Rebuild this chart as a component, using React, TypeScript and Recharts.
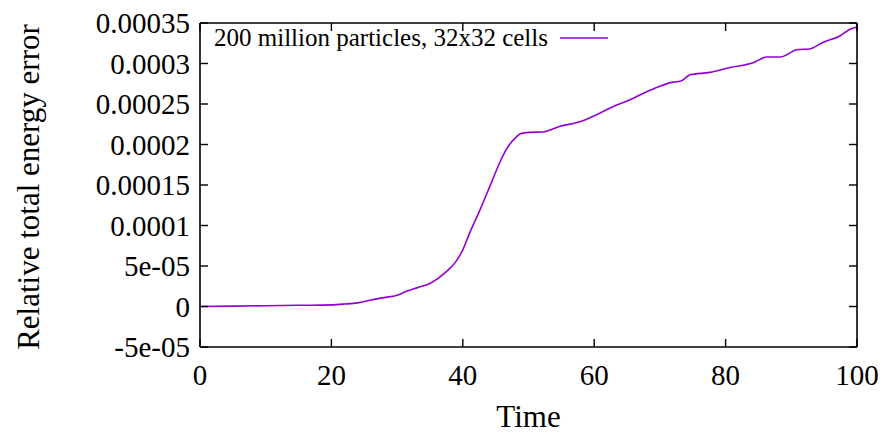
import React from "react";
import { LineChart, Line, XAxis, YAxis } from "recharts";

const times = [0, 5, 10, 15, 20, 22, 24, 26, 28, 30, 31.5, 33, 35, 37.5, 39, 40, 41, 42.6, 44.1, 45.7, 46.5, 47.2, 48, 48.7, 49.5, 50.2, 52.2, 54.8, 57.8, 60.9, 62.9, 65.4, 68.5, 70, 72, 73.1, 74.6, 77.6, 80.7, 84.2, 86.3, 88.3, 90.9, 92.8, 94.8, 97.4, 98.9, 100];
const errors = [0, 0.05e-5, 0.1e-5, 0.15e-5, 0.2e-5, 0.3e-5, 0.45e-5, 0.8e-5, 1.1e-5, 1.4e-5, 1.9e-5, 2.3e-5, 2.85e-5, 4.3e-5, 5.6e-5, 7.0e-5, 9.0e-5, 11.9e-5, 14.8e-5, 17.9e-5, 19.2e-5, 20.1e-5, 20.8e-5, 21.3e-5, 21.45e-5, 21.5e-5, 21.55e-5, 22.25e-5, 22.8e-5, 23.9e-5, 24.7e-5, 25.5e-5, 26.7e-5, 27.2e-5, 27.7e-5, 27.8e-5, 28.6e-5, 28.9e-5, 29.5e-5, 30.1e-5, 30.8e-5, 30.8e-5, 31.7e-5, 31.8e-5, 32.6e-5, 33.4e-5, 34.2e-5, 34.5e-5];

const xTicks = [0, 20, 40, 60, 80, 100];
const yTicks = [-0.00005, 0, 0.00005, 0.0001, 0.00015, 0.0002, 0.00025, 0.0003, 0.00035];
const yTickLabels = ["-5e-05", "0", "5e-05", "0.0001", "0.00015", "0.0002", "0.00025", "0.0003", "0.00035"];

const seriesName = "200 million particles, 32x32 cells";
const xLabel = "Time";
const yLabel = "Relative total energy error";

const data = times.map((t, i) => ({ t, e: errors[i] }));

const FONT = "'Liberation Serif', serif";
const COLOR = "#9400D3";
const TICK = 8;
const AXIS = { stroke: "#000", strokeWidth: 1.6 };

const LeftTick = (props: any) => {
  const { x, y, payload } = props;
  const idx = yTicks.findIndex((v) => Math.abs(v - payload.value) < 1e-12);
  return (
    <g>
      <line x1={x} x2={x + TICK} y1={y} y2={y} stroke="#000" strokeWidth={1.4} />
      <text x={x - 10} y={y} dy={10} textAnchor="end" fontFamily={FONT} fontSize={29} fill="#000">
        {idx >= 0 ? yTickLabels[idx] : payload.value}
      </text>
    </g>
  );
};

const RightTick = (props: any) => {
  const { x, y } = props;
  return <line x1={x} x2={x - TICK} y1={y} y2={y} stroke="#000" strokeWidth={1.4} />;
};

const BottomTick = (props: any) => {
  const { x, y, payload } = props;
  return (
    <g>
      <line x1={x} x2={x} y1={y} y2={y - TICK} stroke="#000" strokeWidth={1.4} />
      <text x={x} y={y} dy={38} textAnchor="middle" fontFamily={FONT} fontSize={29} fill="#000">
        {payload.value}
      </text>
    </g>
  );
};

const TopTick = (props: any) => {
  const { x, y } = props;
  return <line x1={x} x2={x} y1={y} y2={y + TICK} stroke="#000" strokeWidth={1.4} />;
};

const YLabel = (props: any) => {
  const { viewBox } = props;
  const cx = viewBox.x + 28;
  const cy = viewBox.y + viewBox.height / 2 + 2;
  return (
    <text x={cx} y={cy} transform={`rotate(-90 ${cx} ${cy})`} textAnchor="middle" dominantBaseline="central" fontFamily={FONT} fontSize={31} fill="#000">
      {yLabel}
    </text>
  );
};

const XLabel = (props: any) => {
  const { viewBox } = props;
  const cx = viewBox.x + viewBox.width / 2;
  return (
    <text x={cx} y={viewBox.y + 80} textAnchor="middle" fontFamily={FONT} fontSize={31} fill="#000">
      {xLabel}
    </text>
  );
};

export default function App() {
  return (
    <div style={{ position: "absolute", left: 0, top: 0, width: 880, height: 436, background: "#fff" }}>
      <LineChart width={880} height={436} data={data} margin={{ top: 22, right: 22, left: 0, bottom: 0 }}>
        <XAxis
          xAxisId="b"
          dataKey="t"
          type="number"
          domain={[0, 100]}
          ticks={xTicks}
          tick={<BottomTick />}
          tickLine={false}
          tickSize={0}
          tickMargin={0}
          height={89}
          axisLine={AXIS}
          label={<XLabel />}
        />
        <XAxis
          xAxisId="t"
          orientation="top"
          dataKey="t"
          type="number"
          domain={[0, 100]}
          ticks={xTicks}
          tick={<TopTick />}
          tickLine={false}
          tickSize={0}
          tickMargin={0}
          height={1}
          axisLine={AXIS}
        />
        <YAxis
          yAxisId="l"
          type="number"
          domain={[-0.00005, 0.00035]}
          ticks={yTicks}
          tick={<LeftTick />}
          tickLine={false}
          tickSize={0}
          tickMargin={0}
          width={200}
          axisLine={AXIS}
          label={<YLabel />}
        />
        <YAxis
          yAxisId="r"
          orientation="right"
          type="number"
          domain={[-0.00005, 0.00035]}
          ticks={yTicks}
          tick={<RightTick />}
          tickLine={false}
          tickSize={0}
          tickMargin={0}
          width={1}
          axisLine={AXIS}
        />
        <Line
          xAxisId="t"
          yAxisId="r"
          type="monotone"
          dataKey="e"
          stroke="none"
          strokeWidth={0}
          dot={false}
          activeDot={false}
          legendType="none"
          isAnimationActive={false}
        />
        <Line
          xAxisId="b"
          yAxisId="l"
          type="monotone"
          dataKey="e"
          name={seriesName}
          stroke={COLOR}
          strokeWidth={1.6}
          dot={false}
          isAnimationActive={false}
        />
      </LineChart>
      <div style={{ position: "absolute", top: 24, left: 214, display: "flex", alignItems: "center", fontFamily: FONT, fontSize: 25, color: "#000", whiteSpace: "nowrap", pointerEvents: "none" }}>
        <span>{seriesName}</span>
        <svg width={58} height={10} style={{ marginLeft: 8 }}>
          <line x1={4} x2={52} y1={5} y2={5} stroke={COLOR} strokeWidth={1.6} />
        </svg>
      </div>
    </div>
  );
}
